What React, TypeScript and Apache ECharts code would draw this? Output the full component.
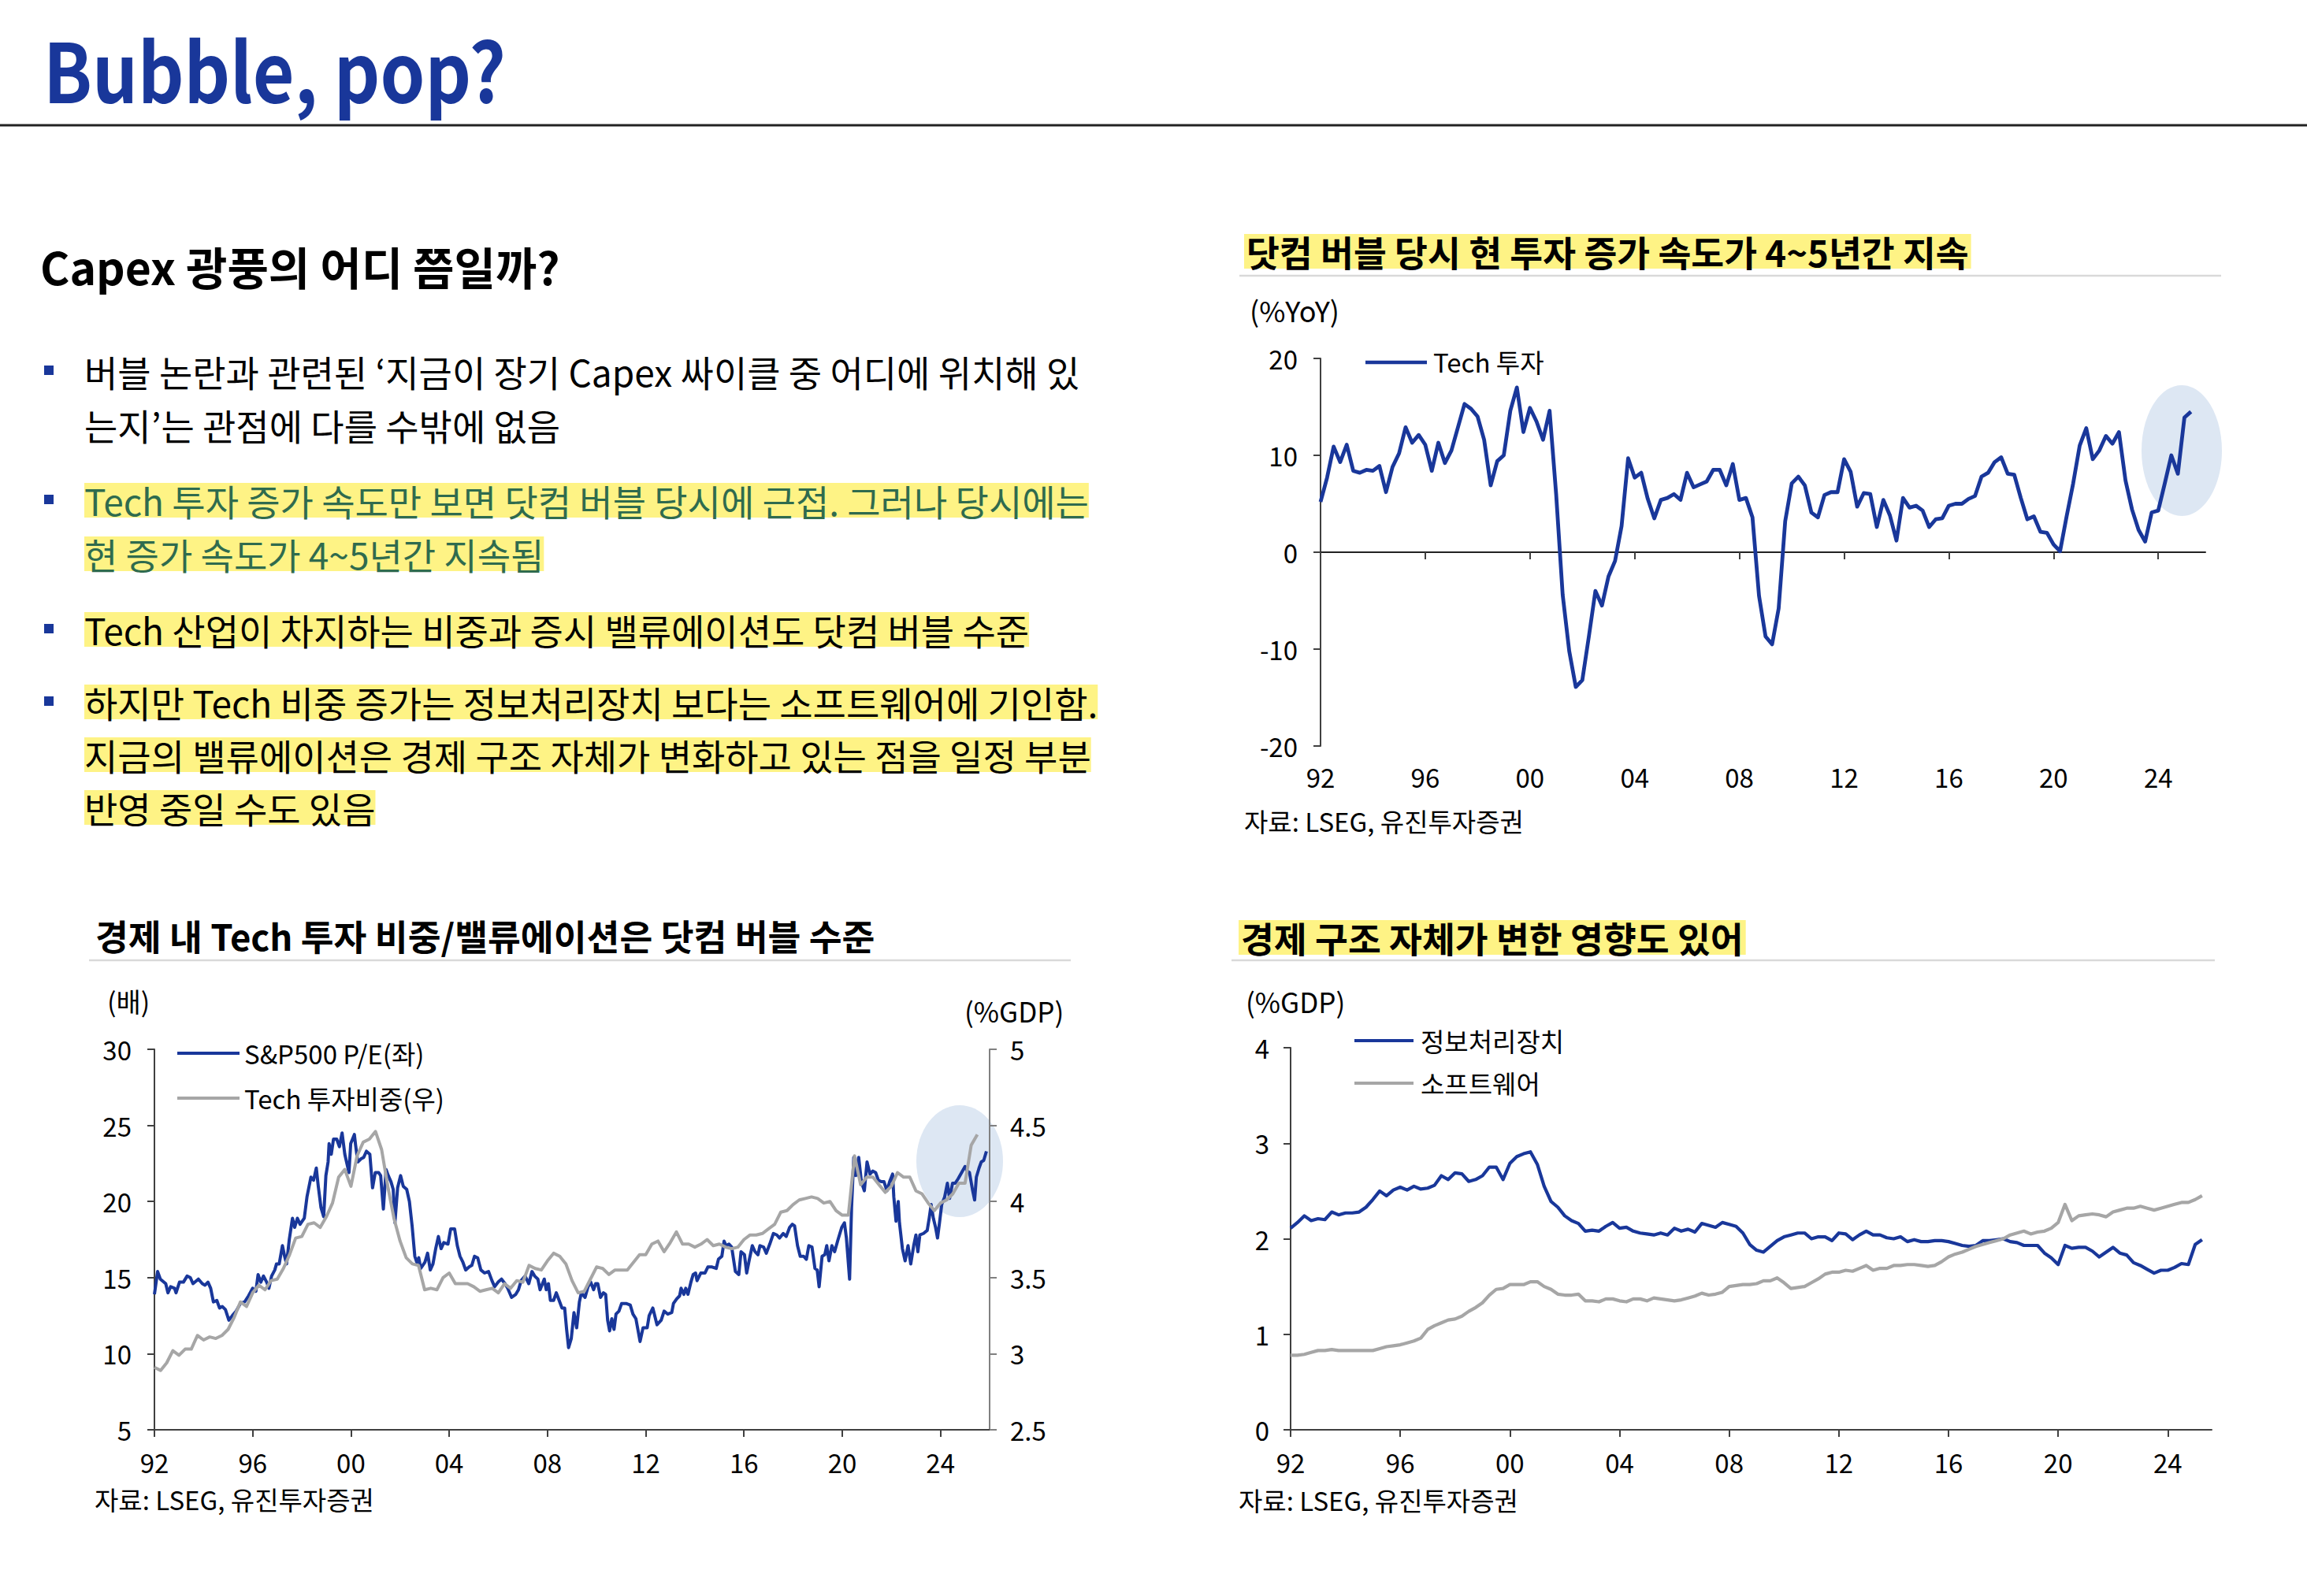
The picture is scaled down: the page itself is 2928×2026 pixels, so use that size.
import React, { useEffect, useRef } from 'react';
import * as echarts from 'echarts';

// ---------------- data ----------------
const startYear = 1992;
const yearTicks = [1992, 1996, 2000, 2004, 2008, 2012, 2016, 2020, 2024];

// Tech investment, %YoY, quarterly from 1992Q1
const techInvestYoY = [
  5.2, 7.7, 10.9, 9.3, 11.1, 8.4, 8.2, 8.5, 8.4, 8.9,
  6.2, 8.8, 10.2, 12.9, 11.3, 12.1, 11.1, 8.4, 11.3, 9.2,
  10.5, 12.9, 15.3, 14.8, 14.0, 11.6, 6.9, 9.4, 10.0, 14.6,
  17.0, 12.4, 14.9, 13.5, 11.6, 14.6, 6.0, -4.4, -10.2, -13.9,
  -13.2, -8.7, -4.0, -5.5, -2.5, -0.9, 2.7, 9.7, 7.7, 8.2,
  5.5, 3.5, 5.4, 5.6, 6.0, 5.4, 8.2, 6.7, 7.0, 7.3,
  8.5, 8.5, 6.9, 9.1, 5.4, 5.6, 3.6, -4.5, -8.7, -9.5,
  -5.8, 3.2, 7.1, 7.8, 6.9, 4.1, 3.6, 5.9, 6.2, 6.2,
  9.6, 8.3, 4.7, 6.1, 6.0, 2.6, 5.4, 3.8, 1.2, 5.6,
  4.6, 4.8, 4.3, 2.6, 3.4, 3.5, 4.8, 5.0, 5.0, 5.5,
  5.8, 7.8, 8.2, 9.3, 9.8, 8.1, 8.0, 5.6, 3.4, 3.7,
  2.1, 2.0, 0.8, 0.1, 3.7, 7.1, 11.0, 12.8, 9.6, 10.5,
  12.0, 11.2, 12.4, 7.4, 4.4, 2.3, 1.1, 4.1, 4.3, 7.1,
  10.0, 8.1, 13.9, 14.5,
];

// S&P500 P/E (left axis): observation dates and values
const peYears = [
  1992.00, 1992.13, 1992.24, 1992.46, 1992.55, 1992.66, 1992.82, 1992.88, 1993.02, 1993.18,
  1993.33, 1993.46, 1993.57, 1993.79, 1993.95, 1994.06, 1994.18, 1994.29, 1994.40, 1994.54,
  1994.65, 1994.76, 1994.89, 1995.03, 1995.17, 1995.33, 1995.50, 1995.67, 1995.83, 1996.00,
  1996.13, 1996.22, 1996.33, 1996.44, 1996.57, 1996.66, 1996.77, 1996.90, 1996.97, 1997.08,
  1997.21, 1997.30, 1997.38, 1997.49, 1997.62, 1997.71, 1997.82, 1997.93, 1998.10, 1998.21,
  1998.37, 1998.48, 1998.59, 1998.67, 1998.78, 1998.89, 1998.98, 1999.07, 1999.11, 1999.20,
  1999.29, 1999.42, 1999.53, 1999.64, 1999.75, 1999.92, 1999.99, 2000.14, 2000.19, 2000.28,
  2000.41, 2000.52, 2000.63, 2000.77, 2000.88, 2000.99, 2001.13, 2001.21, 2001.32, 2001.43,
  2001.52, 2001.63, 2001.72, 2001.79, 2001.90, 2002.02, 2002.13, 2002.27, 2002.38, 2002.49,
  2002.60, 2002.68, 2002.76, 2002.84, 2003.01, 2003.12, 2003.23, 2003.34, 2003.45, 2003.56,
  2003.67, 2003.78, 2003.95, 2004.06, 2004.22, 2004.33, 2004.44, 2004.56, 2004.67, 2004.81,
  2004.92, 2005.03, 2005.16, 2005.29, 2005.44, 2005.60, 2005.74, 2005.85, 2005.99, 2006.13,
  2006.27, 2006.38, 2006.54, 2006.71, 2006.82, 2006.93, 2007.09, 2007.24, 2007.37, 2007.48,
  2007.61, 2007.70, 2007.87, 2007.95, 2008.04, 2008.12, 2008.25, 2008.36, 2008.50, 2008.59,
  2008.70, 2008.78, 2008.86, 2008.97, 2009.08,
  2009.19, 2009.30, 2009.38, 2009.53, 2009.65, 2009.76, 2009.88, 2009.96, 2010.05, 2010.16,
  2010.28, 2010.37, 2010.45, 2010.53, 2010.62, 2010.71, 2010.79, 2010.91, 2011.02, 2011.20,
  2011.37, 2011.48, 2011.60, 2011.68, 2011.77, 2011.89, 2012.06, 2012.14, 2012.29, 2012.46,
  2012.63, 2012.75, 2012.90, 2013.06, 2013.13, 2013.26, 2013.38, 2013.44, 2013.55, 2013.63,
  2013.72, 2013.84, 2013.93, 2014.03, 2014.09, 2014.24, 2014.41, 2014.53, 2014.70, 2014.87,
  2014.96, 2015.10, 2015.19, 2015.27, 2015.39, 2015.50, 2015.65, 2015.79, 2015.88, 2016.02,
  2016.11, 2016.22, 2016.34, 2016.45, 2016.57, 2016.65, 2016.80, 2016.91, 2017.05, 2017.20,
  2017.34, 2017.45, 2017.60, 2017.72, 2017.86, 2017.97, 2018.06, 2018.18, 2018.29, 2018.43,
  2018.54, 2018.64, 2018.77, 2018.89, 2018.98, 2019.06, 2019.18, 2019.29, 2019.37, 2019.46,
  2019.58, 2019.69, 2019.83, 2019.98, 2020.09, 2020.17, 2020.30, 2020.38, 2020.47, 2020.55,
  2020.67, 2020.78, 2020.90, 2021.01, 2021.13, 2021.24, 2021.36, 2021.47, 2021.59, 2021.70,
  2021.82, 2021.93, 2022.05, 2022.10, 2022.19, 2022.28, 2022.33, 2022.45, 2022.56, 2022.68,
  2022.79, 2022.91, 2023.00, 2023.08, 2023.16, 2023.31, 2023.46, 2023.54, 2023.62, 2023.71,
  2023.80, 2023.88, 2023.96, 2024.05, 2024.17, 2024.28, 2024.37, 2024.49, 2024.60, 2024.72,
  2024.86, 2025.00, 2025.09, 2025.18, 2025.30, 2025.39, 2025.46, 2025.57, 2025.66, 2025.76,
  2025.87,
];
const peValues = [
  13.9, 15.4, 14.9, 14.6, 14.0, 14.4, 14.3, 14.0, 14.7, 14.7,
  15.1, 15.0, 14.6, 14.9, 14.6, 14.5, 14.7, 14.3, 13.4, 13.5,
  13.0, 13.1, 12.9, 12.2, 12.5, 12.8, 13.3, 13.4, 13.8, 14.3,
  14.1, 15.2, 14.7, 15.1, 14.7, 14.3, 15.1, 15.5, 15.9, 15.9,
  17.1, 16.4, 15.9, 17.5, 18.9, 18.3, 18.9, 18.5, 18.9, 20.3,
  21.6, 21.4, 22.2, 21.0, 19.6, 19.0, 21.7, 22.6, 23.8, 23.1,
  24.1, 24.1, 23.6, 24.5, 23.1, 21.9, 23.8, 24.4, 23.7, 22.6,
  22.8, 22.9, 23.3, 23.1, 20.9, 21.9, 21.9, 21.7, 19.5, 22.1,
  21.7, 21.3, 20.8, 18.6, 20.9, 21.7, 21.0, 20.8, 20.0, 18.4,
  16.4, 16.0, 16.3, 15.6, 16.0, 16.6, 15.5, 15.9, 16.9, 17.7,
  16.9, 17.3, 17.2, 18.2, 18.2, 17.1, 16.4, 16.0, 15.5, 15.7,
  15.8, 16.4, 16.3, 15.5, 15.3, 15.4, 14.8, 14.4, 14.7, 14.9,
  14.6, 14.3, 13.7, 13.9, 14.2, 14.8, 15.1, 14.6, 15.4, 15.1,
  14.9, 14.2, 14.9, 14.2, 14.6, 13.5, 13.5, 14.0, 13.4, 13.0,
  13.0, 11.6, 10.4, 11.0, 12.7,
  11.7, 13.4, 14.0, 13.7, 14.4, 14.7, 14.2, 14.6, 14.6, 13.7,
  14.0, 13.9, 12.2, 11.5, 12.3, 11.6, 12.6, 12.8, 13.3, 13.3,
  13.2, 12.6, 12.3, 11.6, 10.8, 11.7, 11.7, 12.5, 13.0, 11.9,
  12.2, 12.8, 12.6, 12.7, 13.3, 13.6, 13.8, 14.3, 13.9, 14.3,
  13.9, 14.7, 15.2, 15.3, 14.8, 15.3, 15.3, 15.7, 15.7, 15.6,
  16.2, 16.4, 17.4, 17.1, 17.2, 17.0, 15.4, 15.2, 16.7, 16.5,
  15.3, 16.2, 17.1, 16.7, 16.5, 17.1, 17.0, 16.6, 17.2, 17.9,
  17.8, 17.6, 17.9, 17.7, 18.3, 18.5, 18.4, 17.1, 16.4, 16.4,
  16.2, 17.1, 17.0, 15.6, 15.5, 14.4, 16.4, 16.5, 17.1, 16.1,
  17.1, 16.7, 17.5, 18.3, 18.6, 17.6, 14.9, 19.6, 22.9, 21.7,
  22.9, 21.3, 20.7, 22.6, 21.8, 22.0, 21.9, 21.4, 21.3, 21.3,
  20.7, 21.3, 21.8, 20.3, 18.7, 20.0, 18.6, 16.9, 16.1, 17.1,
  15.9, 17.1, 17.8, 16.7, 17.8, 17.9, 18.1, 18.9, 19.8, 18.9,
  18.3, 17.6, 18.6, 19.8, 20.3, 21.2, 20.2, 21.2, 21.2, 21.5,
  21.9, 22.3, 22.0, 21.9, 20.8, 20.1, 21.6, 22.2, 22.6, 22.7,
  23.3,
];

// Tech investment share of GDP (right axis), quarterly from 1992Q1
const techShareGDP = [
  2.91, 2.89, 2.94, 3.02, 2.99, 3.03, 3.03, 3.12, 3.09, 3.11,
  3.10, 3.12, 3.16, 3.24, 3.34, 3.31, 3.40, 3.45, 3.42, 3.48,
  3.49, 3.56, 3.65, 3.76, 3.77, 3.85, 3.86, 3.83, 3.90, 3.99,
  4.16, 4.21, 4.10, 4.30, 4.39, 4.41, 4.46, 4.34, 4.10, 3.89,
  3.74, 3.63, 3.59, 3.58, 3.42, 3.43, 3.42, 3.50, 3.53, 3.46,
  3.46, 3.46, 3.44, 3.41, 3.42, 3.43, 3.40, 3.46, 3.43, 3.48,
  3.47, 3.58, 3.56, 3.55, 3.61, 3.66, 3.64, 3.59, 3.48, 3.40,
  3.41, 3.49, 3.57, 3.56, 3.52, 3.55, 3.55, 3.55, 3.60, 3.65,
  3.65, 3.72, 3.74, 3.67, 3.73, 3.80, 3.72, 3.72, 3.70, 3.72,
  3.75, 3.71, 3.72, 3.70, 3.69, 3.70, 3.75, 3.78, 3.78, 3.79,
  3.82, 3.85, 3.93, 3.94, 3.98, 4.01, 4.02, 4.03, 4.02, 3.99,
  4.00, 3.94, 3.91, 3.91, 4.30, 4.11, 4.16, 4.16, 4.11, 4.06,
  4.10, 4.19, 4.16, 4.16, 4.07, 4.05, 3.99, 3.94, 3.99, 4.01,
  4.05, 4.12, 4.12, 4.37, 4.44,
];

// Information processing equipment, %GDP, quarterly from 1992Q1
const infoProcessingGDP = [
  2.11, 2.17, 2.24, 2.19, 2.21, 2.20, 2.28, 2.25, 2.27, 2.27,
  2.28, 2.33, 2.41, 2.50, 2.45, 2.51, 2.54, 2.51, 2.55, 2.52,
  2.53, 2.56, 2.66, 2.62, 2.69, 2.68, 2.60, 2.62, 2.66, 2.75,
  2.75, 2.62, 2.79, 2.86, 2.89, 2.91, 2.78, 2.55, 2.39, 2.33,
  2.24, 2.19, 2.16, 2.08, 2.09, 2.08, 2.13, 2.17, 2.11, 2.12,
  2.08, 2.06, 2.05, 2.04, 2.06, 2.04, 2.11, 2.08, 2.10, 2.07,
  2.16, 2.14, 2.12, 2.17, 2.15, 2.13, 2.06, 1.94, 1.88, 1.86,
  1.92, 1.98, 2.02, 2.04, 2.06, 2.06, 2.00, 2.02, 2.02, 1.98,
  2.06, 2.05, 1.99, 2.04, 2.08, 2.04, 2.04, 2.01, 2.00, 2.02,
  1.97, 1.99, 1.97, 1.97, 1.98, 1.98, 1.97, 1.95, 1.93, 1.92,
  1.93, 1.98, 1.98, 1.99, 2.00, 1.97, 1.96, 1.93, 1.93, 1.93,
  1.85, 1.80, 1.73, 1.93, 1.90, 1.91, 1.91, 1.87, 1.81, 1.86,
  1.91, 1.85, 1.83, 1.75, 1.72, 1.68, 1.64, 1.67, 1.67, 1.70,
  1.74, 1.73, 1.94, 1.99,
];

// Software, %GDP, quarterly from 1992Q1
const softwareGDP = [
  0.78, 0.78, 0.79, 0.81, 0.83, 0.83, 0.84, 0.83, 0.83, 0.83,
  0.83, 0.83, 0.83, 0.85, 0.87, 0.88, 0.89, 0.91, 0.93, 0.96,
  1.05, 1.09, 1.12, 1.15, 1.16, 1.19, 1.24, 1.28, 1.33, 1.41,
  1.47, 1.48, 1.52, 1.52, 1.52, 1.55, 1.55, 1.50, 1.47, 1.42,
  1.41, 1.41, 1.42, 1.35, 1.35, 1.34, 1.37, 1.37, 1.35, 1.34,
  1.37, 1.37, 1.35, 1.38, 1.37, 1.36, 1.35, 1.36, 1.38, 1.40,
  1.43, 1.41, 1.42, 1.44, 1.50, 1.51, 1.52, 1.52, 1.53, 1.56,
  1.56, 1.59, 1.54, 1.48, 1.49, 1.50, 1.54, 1.58, 1.63, 1.65,
  1.65, 1.67, 1.66, 1.69, 1.72, 1.67, 1.69, 1.69, 1.72, 1.72,
  1.73, 1.73, 1.72, 1.71, 1.72, 1.76, 1.81, 1.84, 1.86, 1.89,
  1.92, 1.94, 1.96, 1.98, 2.00, 2.04, 2.06, 2.08, 2.05, 2.07,
  2.08, 2.11, 2.17, 2.36, 2.19, 2.24, 2.25, 2.26, 2.25, 2.23,
  2.28, 2.30, 2.32, 2.32, 2.34, 2.32, 2.30, 2.32, 2.34, 2.36,
  2.38, 2.38, 2.41, 2.45,
];

// ---------------- texts ----------------
const pageTitle = 'Bubble, pop?';
const sectionTitle = 'Capex 광풍의 어디 쯤일까?';
const bulletLines = [
  '버블 논란과 관련된 ‘지금이 장기 Capex 싸이클 중 어디에 위치해 있',
  '는지’는 관점에 다를 수밖에 없음',
  'Tech 투자 증가 속도만 보면 닷컴 버블 당시에 근접. 그러나 당시에는',
  '현 증가 속도가 4~5년간 지속됨',
  'Tech 산업이 차지하는 비중과 증시 밸류에이션도 닷컴 버블 수준',
  '하지만 Tech 비중 증가는 정보처리장치 보다는 소프트웨어에 기인함.',
  '지금의 밸류에이션은 경제 구조 자체가 변화하고 있는 점을 일정 부분',
  '반영 중일 수도 있음',
];
const chartTitle1 = '닷컴 버블 당시 현 투자 증가 속도가 4~5년간 지속';
const chartTitle2 = '경제 내 Tech 투자 비중/밸류에이션은 닷컴 버블 수준';
const chartTitle3 = '경제 구조 자체가 변한 영향도 있어';
const sourceText = '자료: LSEG, 유진투자증권';
const seriesNames = {
  techYoY: 'Tech 투자',
  pe: 'S&P500 P/E(좌)',
  share: 'Tech 투자비중(우)',
  info: '정보처리장치',
  soft: '소프트웨어',
};

// ---------------- styles ----------------
const FONT = '"Noto Sans CJK KR", "Noto Sans", sans-serif';
const BLUE = '#19379a';
const GRAY = '#a6a6a6';
const YELLOW = '#fef385';
const GREEN = '#2f6b4e';
const ELLIPSE = '#dde7f3';
const AXIS = '#404040';

const quarterly = (vals: number[]) => vals.map((v, i) => [startYear + i / 4, v]);
const yy = (v: number) => String(Math.round(v) % 100).padStart(2, '0');

function txt(x: number, y: number, text: string, size: number, extra: any = {}, el: any = {}) {
  return {
    type: 'text',
    x,
    y,
    z: 10,
    ...el,
    style: {
      text,
      fontSize: size,
      fontFamily: FONT,
      fill: '#000',
      align: 'left',
      verticalAlign: 'middle',
      ...extra,
    },
  };
}
function hline(x1: number, x2: number, y: number, color: string, w: number) {
  return { type: 'line', z: 5, shape: { x1, y1: y, x2, y2: y }, style: { stroke: color, lineWidth: w } };
}

function timeXAxis(gridIndex: number, max: number, extra: any = {}) {
  return {
    type: 'value',
    gridIndex,
    min: startYear,
    max,
    interval: 4,
    position: 'bottom',
    axisLine: { show: true, onZero: false, lineStyle: { color: AXIS, width: 2 } },
    axisTick: { show: true, length: 9, customValues: yearTicks, lineStyle: { color: AXIS, width: 2 } },
    axisLabel: {
      show: true,
      customValues: yearTicks,
      margin: 24,
      fontSize: 33,
      fontFamily: FONT,
      color: '#000',
      formatter: (v: number) => (Math.round(v) % 4 === 0 ? yy(v) : ''),
    },
    splitLine: { show: false },
    ...extra,
  };
}
function yAx(gridIndex: number, min: number, max: number, interval: number, extra: any = {}) {
  return {
    type: 'value',
    gridIndex,
    min,
    max,
    interval,
    axisLine: { show: true, onZero: false, lineStyle: { color: AXIS, width: 2 } },
    axisTick: { show: true, length: 9, lineStyle: { color: AXIS, width: 2 } },
    axisLabel: { margin: 29, fontSize: 33, fontFamily: FONT, color: '#000' },
    splitLine: { show: false },
    ...extra,
  };
}

function buildOption() {
  const lineCenters = [471, 539, 635, 703, 799, 891, 958, 1025];
  const bulletsAt = [0, 2, 4, 5];
  const highlighted = [2, 3, 4, 5, 6, 7];
  const graphics: any[] = [];

  // page header
  graphics.push(txt(55, 86, pageTitle, 104, { fontWeight: 'bold', fill: BLUE }, { scaleX: 0.875 }));
  graphics.push(hline(0, 2928, 159, '#222', 3));
  graphics.push(txt(51, 337, sectionTitle, 57, { fontWeight: 'bold' }));

  // bullet list
  bulletLines.forEach((line, i) => {
    const hl = highlighted.includes(i);
    graphics.push(
      txt(107, lineCenters[i], line, 46, {
        fill: i === 2 || i === 3 ? GREEN : '#000',
        backgroundColor: hl ? YELLOW : 'transparent',
        lineHeight: 44,
      })
    );
  });
  bulletsAt.forEach((i) => {
    graphics.push({ type: 'rect', z: 10, shape: { x: 56, y: lineCenters[i] - 7, width: 12, height: 12 }, style: { fill: BLUE } });
  });

  // chart 1 decorations
  graphics.push(txt(1579, 319, chartTitle1, 45.5, { fontWeight: 'bold', backgroundColor: YELLOW, lineHeight: 44, padding: [0, 3] }));
  graphics.push(hline(1573, 2819, 350, '#d9d9d9', 2.5));
  graphics.push(txt(1586, 393, '(%YoY)', 36));
  graphics.push(txt(1579, 1042, sourceText, 33));
  graphics.push({ type: 'ellipse', z: -1, shape: { cx: 2769, cy: 572, rx: 51, ry: 83 }, style: { fill: ELLIPSE } });
  graphics.push({ type: 'line', z: 10, shape: { x1: 1733, y1: 460, x2: 1811, y2: 460 }, style: { stroke: BLUE, lineWidth: 4.5 } });
  graphics.push(txt(1819, 459, seriesNames.techYoY, 33));

  // chart 2 decorations
  graphics.push(txt(121, 1187, chartTitle2, 45.5, { fontWeight: 'bold' }));
  graphics.push(hline(113, 1359, 1219, '#d9d9d9', 2.5));
  graphics.push(txt(136, 1270, '(배)', 34));
  graphics.push(txt(1224, 1282, '(%GDP)', 35));
  graphics.push(txt(120, 1903, sourceText, 33));
  graphics.push({ type: 'ellipse', z: -1, shape: { cx: 1218, cy: 1474, rx: 55, ry: 71 }, style: { fill: ELLIPSE } });
  graphics.push({ type: 'line', z: 10, shape: { x1: 225, y1: 1337, x2: 304, y2: 1337 }, style: { stroke: BLUE, lineWidth: 4 } });
  graphics.push(txt(310, 1337, seriesNames.pe, 33));
  graphics.push({ type: 'line', z: 10, shape: { x1: 225, y1: 1394, x2: 304, y2: 1394 }, style: { stroke: GRAY, lineWidth: 4 } });
  graphics.push(txt(310, 1394, seriesNames.share, 33));

  // chart 3 decorations
  graphics.push(txt(1572, 1190, chartTitle3, 45.5, { fontWeight: 'bold', backgroundColor: YELLOW, lineHeight: 44, padding: [0, 3] }));
  graphics.push(hline(1563, 2811, 1219, '#d9d9d9', 2.5));
  graphics.push(txt(1581, 1270, '(%GDP)', 35));
  graphics.push(txt(1572, 1904, sourceText, 33));
  graphics.push({ type: 'line', z: 10, shape: { x1: 1719, y1: 1321, x2: 1794, y2: 1321 }, style: { stroke: BLUE, lineWidth: 4 } });
  graphics.push(txt(1803, 1321, seriesNames.info, 33));
  graphics.push({ type: 'line', z: 10, shape: { x1: 1719, y1: 1375, x2: 1794, y2: 1375 }, style: { stroke: GRAY, lineWidth: 4 } });
  graphics.push(txt(1803, 1375, seriesNames.soft, 33));

  const peData = peYears.map((y, i) => [y, peValues[i]]);

  const lineSeries = (name: string, data: any[], xi: number, yi: number, color: string, width: number) => ({
    name,
    type: 'line',
    xAxisIndex: xi,
    yAxisIndex: yi,
    data,
    symbol: 'none',
    showSymbol: false,
    silent: true,
    lineStyle: { color, width, join: 'round' },
    itemStyle: { color },
    z: 3,
  });

  return {
    animation: false,
    backgroundColor: '#fff',
    textStyle: { fontFamily: FONT },
    grid: [
      { left: 1676, top: 455, width: 1123, height: 492 },
      { left: 196, top: 1332, width: 1060, height: 483 },
      { left: 1638, top: 1330, width: 1169, height: 485 },
    ],
    xAxis: [
      // chart 1: line & ticks on zero, labels at bottom
      timeXAxis(0, 2025.8, {
        axisLine: { show: true, onZero: true, lineStyle: { color: '#222', width: 2 } },
        axisLabel: { show: false },
      }),
      timeXAxis(0, 2025.8, {
        axisLine: { show: false, onZero: false },
        axisTick: { show: false },
        axisLabel: {
          show: true,
          customValues: yearTicks,
          margin: 22,
          fontSize: 33,
          fontFamily: FONT,
          color: '#000',
          formatter: (v: number) => (Math.round(v) % 4 === 0 ? yy(v) : ''),
        },
      }),
      timeXAxis(1, 2026),
      timeXAxis(2, 2025.6),
    ],
    yAxis: [
      yAx(0, -20, 20, 10),
      yAx(1, 5, 30, 5),
      yAx(1, 2.5, 5, 0.5, {
        position: 'right',
        axisLine: { show: true, onZero: false, lineStyle: { color: '#808080', width: 2 } },
        axisTick: { show: true, length: 9, lineStyle: { color: '#808080', width: 2 } },
        axisLabel: { margin: 26, fontSize: 33, fontFamily: FONT, color: '#000' },
      }),
      yAx(2, 0, 4, 1, { axisLabel: { margin: 27, fontSize: 33, fontFamily: FONT, color: '#000' } }),
    ],
    series: [
      lineSeries(seriesNames.techYoY, quarterly(techInvestYoY), 0, 0, BLUE, 4.8),
      lineSeries(seriesNames.pe, peData, 2, 1, BLUE, 4),
      lineSeries(seriesNames.share, quarterly(techShareGDP), 2, 2, GRAY, 4),
      lineSeries(seriesNames.info, quarterly(infoProcessingGDP), 3, 3, BLUE, 4.2),
      lineSeries(seriesNames.soft, quarterly(softwareGDP), 3, 3, GRAY, 4.2),
    ],
    graphic: { elements: graphics },
  };
}

export default function App() {
  const ref = useRef<HTMLDivElement>(null);
  useEffect(() => {
    if (!ref.current) return;
    const chart = echarts.init(ref.current, undefined, { renderer: 'svg' });
    chart.setOption(buildOption() as any);
    return () => chart.dispose();
  }, []);
  return (
    <div
      ref={ref}
      style={{ position: 'absolute', left: 0, top: 0, width: 2928, height: 2026, background: '#fff' }}
    />
  );
}
